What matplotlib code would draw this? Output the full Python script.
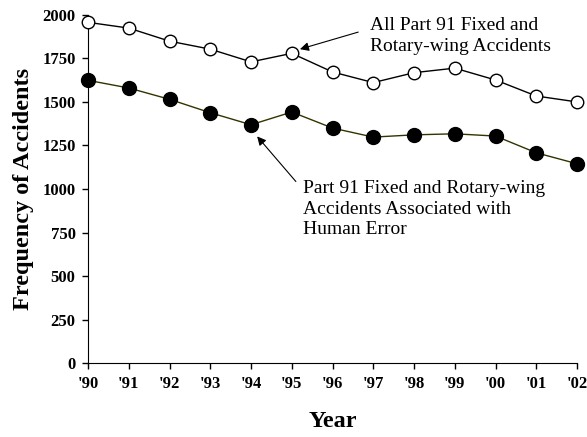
import matplotlib
matplotlib.use("Agg")
import matplotlib.pyplot as plt

years = ["'90", "'91", "'92", "'93", "'94", "'95", "'96", "'97", "'98", "'99", "'00", "'01", "'02"]
all_accidents = [1957, 1924, 1849, 1803, 1730, 1779, 1672, 1611, 1668, 1694, 1626, 1534, 1500]
human_error = [1624, 1580, 1515, 1438, 1369, 1442, 1350, 1298, 1311, 1317, 1304, 1208, 1145]
yticks = [0, 250, 500, 750, 1000, 1250, 1500, 1750, 2000]


def main():
    plt.rcParams["font.family"] = ["Liberation Serif", "DejaVu Serif"]
    fig = plt.figure(figsize=(5.87, 4.37), dpi=100)
    ax = fig.add_axes([0.15, 0.169, 0.833, 0.797])
    x = list(range(len(years)))

    ax.plot(x, all_accidents, color="black", lw=1, marker="o", ms=9,
            mfc="white", mec="black", mew=1, clip_on=False, zorder=3)
    ax.plot(x, human_error, color="#333300", lw=1, marker="o", ms=10,
            mfc="black", mec="black", clip_on=False, zorder=3)

    ax.set_xlim(0, len(years) - 1)
    ax.set_ylim(0, 2000)
    ax.set_xticks(x)
    ax.set_xticklabels(years)
    ax.set_yticks(yticks)
    for lab in ax.get_xticklabels() + ax.get_yticklabels():
        lab.set_fontweight("bold")
        lab.set_fontsize(12)
    ax.tick_params(direction="out", length=4, width=1, pad=5)
    ax.spines["top"].set_visible(False)
    ax.spines["right"].set_visible(False)

    ax.set_xlabel("Year", fontsize=17.5, fontweight="bold", labelpad=14)
    ax.set_ylabel("Frequency of Accidents", fontsize=17.5, fontweight="bold", labelpad=6)

    # labels and their arrows
    ax.text(6.92, 1880, "All Part 91 Fixed and\nRotary-wing Accidents",
            fontsize=14, va="center", ha="left", linespacing=1.3)
    ax.annotate("", xy=(5.2, 1803), xytext=(6.63, 1901),
                arrowprops=dict(arrowstyle="-|>", color="black", lw=0.8,
                                shrinkA=0, shrinkB=0, mutation_scale=13))
    ax.text(5.28, 885, "Part 91 Fixed and Rotary-wing\nAccidents Associated with\nHuman Error",
            fontsize=14, va="center", ha="left", linespacing=1.3)
    ax.annotate("", xy=(4.15, 1302), xytext=(5.1, 1043),
                arrowprops=dict(arrowstyle="-|>", color="black", lw=0.8,
                                shrinkA=0, shrinkB=0, mutation_scale=13))

    fig.savefig("out.png", dpi=100)


if __name__ == "__main__":
    main()
